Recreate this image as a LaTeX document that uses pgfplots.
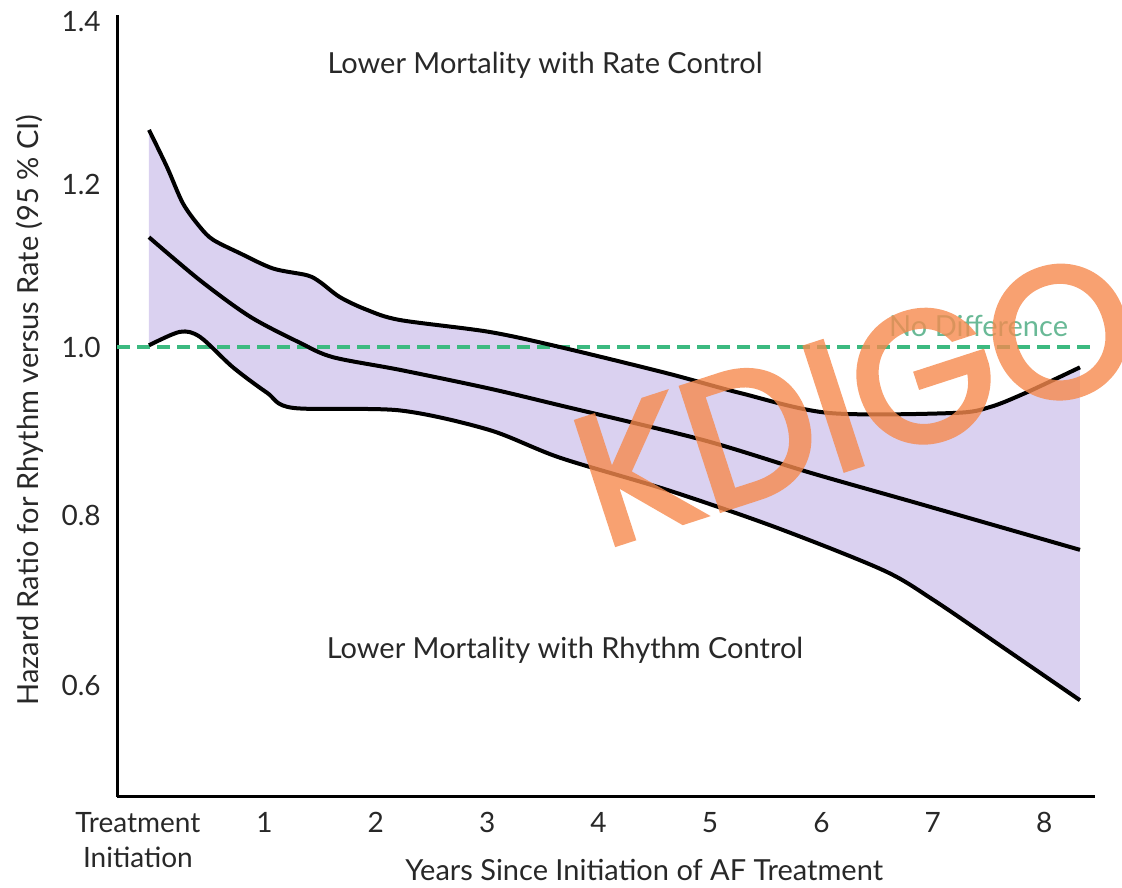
\documentclass[border=0pt]{standalone}
\usepackage{pgfplots}
\pgfplotsset{compat=1.18}
\usepgfplotslibrary{fillbetween}
\usepackage{fontspec}
\setmainfont{Lato}
\newfontfamily\wmfont{Poppins}[FakeBold=3]
\definecolor{band}{RGB}{218,209,240}
\definecolor{dgreen}{RGB}{60,186,128}
\definecolor{lgreen}{RGB}{105,185,150}
\definecolor{wmorange}{RGB}{246,138,78}
\definecolor{txt}{RGB}{40,40,40}
\begin{document}
\begin{tikzpicture}
\begin{axis}[
 at={(58.5pt,45pt)}, anchor=south west,
 scale only axis, width=489pt, height=391pt,
 xmin=-0.323, xmax=8.456, ymin=0.4675, ymax=1.393,
 axis x line*=bottom, axis y line*=left,
 axis line style={line width=1.5pt, black},
 major tick length=0pt,
 xtick={-0.135,1,2,3,4,5,6,7,8},
 xticklabels={{Treatment\\Initiation},1,2,3,4,5,6,7,8},
 ytick={0.600,0.801,1.0,1.192,1.385},
 yticklabels={0.6,0.8,1.0,1.2,1.4},
 tick label style={font=\fontsize{14}{17.5}\selectfont, text=txt},
 xticklabel style={align=center, inner sep=0pt, anchor=north, yshift=-7.5pt},
 yticklabel style={inner sep=0pt, anchor=east, xshift=-8pt},
 xlabel={Years Since Initiation of AF Treatment},
 ylabel={Hazard Ratio for Rhythm versus Rate (95 \% CI)},
 label style={font=\fontsize{14.5}{17}\selectfont, text=txt},
 xlabel style={at={(axis description cs:0.539,-0.0933)}, anchor=center},
 ylabel style={at={(axis description cs:-0.089,0.495)}, anchor=center},
 clip=false,
]
% invisible paths for the band
\addplot[name path=up, draw=none, smooth, tension=0.5] coordinates {
 (-0.036,1.257) (0.126,1.213) (0.269,1.170) (0.422,1.142) (0.539,1.127)
 (0.781,1.111) (1.077,1.093) (1.382,1.085) (1.499,1.077) (1.679,1.059)
 (1.921,1.044) (2.217,1.032) (3.016,1.018) (3.654,1.000) (4.614,0.969)
 (5.260,0.946) (6.068,0.922) (7.190,0.922) (7.513,0.929) (7.837,0.946)
 (8.321,0.976)};
\addplot[name path=lo, draw=none, smooth, tension=0.5] coordinates {
 (-0.036,1.002) (0.242,1.018) (0.422,1.012) (0.718,0.976) (1.023,0.946)
 (1.257,0.928) (2.217,0.925) (3.016,0.902) (3.654,0.869) (4.614,0.831)
 (5.583,0.787) (6.553,0.736) (7.002,0.701) (7.603,0.647) (8.321,0.582)};
\addplot[draw=none, fill=band] fill between[of=up and lo];
% no difference line
\addplot[dgreen, line width=2pt, dash pattern=on 6.5pt off 3.5pt] coordinates {(-0.323,1.0) (8.44,1.0)};
% curves
\addplot[black, line width=2pt, smooth, tension=0.5] coordinates {
 (-0.036,1.257) (0.126,1.213) (0.269,1.170) (0.422,1.142) (0.539,1.127)
 (0.781,1.111) (1.077,1.093) (1.382,1.085) (1.499,1.077) (1.679,1.059)
 (1.921,1.044) (2.217,1.032) (3.016,1.018) (3.654,1.000) (4.614,0.969)
 (5.260,0.946) (6.068,0.922) (7.190,0.922) (7.513,0.929) (7.837,0.946)
 (8.321,0.976)};
\addplot[black, line width=2pt, smooth, tension=0.5] coordinates {
 (-0.036,1.130) (0.422,1.079) (0.871,1.036) (1.320,1.005) (1.616,0.988)
 (2.217,0.973) (3.016,0.951) (3.654,0.931) (4.937,0.890) (5.907,0.851)
 (6.867,0.815) (8.321,0.760)};
\addplot[black, line width=2pt, smooth, tension=0.5] coordinates {
 (-0.036,1.002) (0.242,1.018) (0.422,1.012) (0.718,0.976) (1.023,0.946)
 (1.257,0.928) (2.217,0.925) (3.016,0.902) (3.654,0.869) (4.614,0.831)
 (5.583,0.787) (6.553,0.736) (7.002,0.701) (7.603,0.647) (8.321,0.582)};
\node[font=\fontsize{14.5}{17}\selectfont, text=txt] at (axis cs:3.519,1.334) {Lower Mortality with Rate Control};
\node[font=\fontsize{14.5}{17}\selectfont, text=txt] at (axis cs:3.698,0.641) {Lower Mortality with Rhythm Control};
\node[font=\fontsize{14.5}{17}\selectfont, text=lgreen, anchor=east] at (axis cs:8.277,1.025) {No Difference};
\begin{scope}[transparency group, opacity=0.8]
\node[font=\wmfont\fontsize{92}{92}\selectfont, text=wmorange, rotate=18, anchor=base west, inner sep=0pt] at (axis cs:4.04,0.762) {KDIGO};
\end{scope}
\end{axis}
\pgfresetboundingbox
\path[use as bounding box] (0,0) rectangle (561pt,443.5pt);
\end{tikzpicture}
\end{document}
